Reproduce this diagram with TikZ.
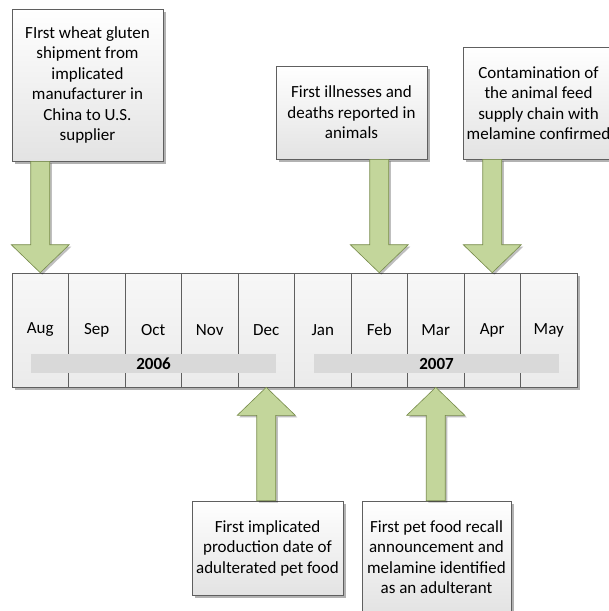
\documentclass[tikz,border=0pt]{standalone}
\usepackage{fontspec}
\setmainfont{Carlito}
\usetikzlibrary{shadows,calc}
\definecolor{arrowfill}{RGB}{195,214,155}
\definecolor{arrowline}{RGB}{120,140,75}
\definecolor{boxline}{RGB}{95,95,95}
\definecolor{yearfill}{RGB}{217,217,217}
\newcommand{\garrowdown}[2]{%
  \filldraw[garrow] ($(#1)+(-9.5,0)$) -- ($(#2)+(-9.5,-28)$) -- ($(#2)+(-29,-28)$) -- (#2)
    -- ($(#2)+(29,-28)$) -- ($(#2)+(9.5,-28)$) -- ($(#1)+(9.5,0)$) -- cycle;}
\newcommand{\garrowup}[2]{%
  \filldraw[garrow] ($(#1)+(-9.5,0)$) -- ($(#2)+(-9.5,28)$) -- ($(#2)+(-29,28)$) -- (#2)
    -- ($(#2)+(29,28)$) -- ($(#2)+(9.5,28)$) -- ($(#1)+(9.5,0)$) -- cycle;}
\begin{document}
\begin{tikzpicture}[x=1pt,y=-1pt,
  every node/.style={font=\fontsize{17}{20.5}\selectfont},
  softshadow/.style={drop shadow={shadow xshift=2.5pt,shadow yshift=-2.5pt,opacity=0.3,fill=black}},
  evbox/.style={draw=boxline, line width=0.6pt, top color=white, bottom color=black!11,
    softshadow, align=center, inner sep=2pt, minimum width=151pt},
  month/.style={draw=boxline, line width=0.6pt, top color=white!97!black, bottom color=black!8,
    softshadow, minimum width=56.5pt, minimum height=114pt, inner sep=0pt},
  year/.style={fill=yearfill, minimum width=245pt, minimum height=19pt, inner sep=0pt,
    font=\fontsize{17}{20.5}\selectfont\bfseries},
  garrow/.style={fill=arrowfill, draw=arrowline, line width=0.6pt, line join=miter,
    drop shadow={shadow xshift=2pt,shadow yshift=-2pt,opacity=0.25,fill=black}}]
\useasboundingbox (0,0) rectangle (609,611);
\fill[white] (0,0) rectangle (609,611);
% months
\foreach \m [count=\i from 0] in {Aug,Sep,Oct,Nov,Dec,Jan,Feb,Mar,Apr,May}
  \node[month, name=\m] at ({12+56.5*(\i+0.5)},330) {\m};
\node[year] (y2006) at (153.5,363.5) {2006};
\node[year] (y2007) at (436.5,363.5) {2007};
% event boxes
\node[evbox, minimum height=152pt] (b1) at (87.5,85)
  {FIrst wheat gluten\\shipment from\\implicated\\manufacturer in\\China to U.S.\\supplier};
\node[evbox, minimum height=93pt] (b2) at (351.5,112.5)
  {First illnesses and\\deaths reported in\\animals};
\node[evbox, minimum height=112pt] (b3) at (538.5,103)
  {Contamination of\\the animal feed\\supply chain with\\melamine confirmed};
\node[evbox, minimum height=94pt] (b4) at (267.5,548)
  {First implicated\\production date of\\adulterated pet food};
\node[evbox, minimum width=149pt, minimum height=112pt] (b5) at (436.5,557)
  {First pet food recall\\announcement and\\melamine identified\\as an adulterant};
% connectors
\coordinate (s1) at (Aug.north |- b1.south);
\coordinate (s2) at (Feb.north |- b2.south);
\coordinate (s3) at (Apr.north |- b3.south);
\coordinate (s4) at (Dec.south |- b4.north);
\coordinate (s5) at (Mar.south |- b5.north);
\garrowdown{s1}{Aug.north}
\garrowdown{s2}{Feb.north}
\garrowdown{s3}{Apr.north}
\garrowup{s4}{Dec.south}
\garrowup{s5}{Mar.south}
\end{tikzpicture}
\end{document}
